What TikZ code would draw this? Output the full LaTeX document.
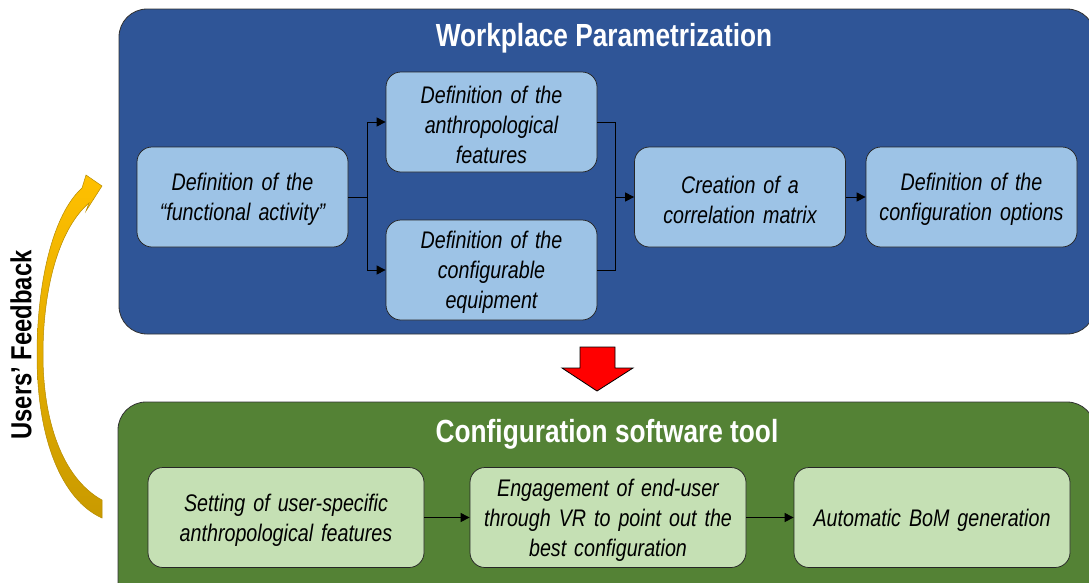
\documentclass[tikz,border=0pt]{standalone}
\usepackage{fontspec}
\setmainfont{Liberation Sans}[FakeStretch=0.82]
\usetikzlibrary{arrows.meta}
\definecolor{wpblue}{HTML}{2F5597}
\definecolor{lblue}{HTML}{9DC3E6}
\definecolor{cgreen}{HTML}{548235}
\definecolor{lgreen}{HTML}{C5E0B4}
\definecolor{goldA}{HTML}{FFC000}
\definecolor{goldB}{HTML}{C99A00}
\tikzset{
  panel/.style={draw=black!80, line width=0.8pt, rounded corners=28pt, inner sep=0pt},
  box/.style={draw=black!85, line width=0.75pt, rounded corners=15pt, inner sep=0pt,
    minimum height=100pt},
  bbox/.style={box, fill=lblue, minimum width=211pt},
  gbox/.style={box, fill=lgreen, minimum width=276pt},
  btext/.style={inner sep=0pt, align=center, text width=205pt, font=\fontsize{24}{30}\selectfont\itshape, yshift=-2.5pt},
  gtext/.style={btext, text width=268pt},
  ptitle/.style={text=white, font=\fontsize{32}{38}\selectfont\bfseries, inner sep=0pt},
  conn/.style={draw=black, line width=0.9pt},
  arr/.style={conn, -{Triangle[length=9pt,width=9pt]}}
}
\begin{document}
\begin{tikzpicture}[x=1pt,y=-1pt]
\useasboundingbox (0,0) rectangle (1089,582);
% panels
\node[panel, fill=wpblue, minimum width=976pt, minimum height=325pt] (wp) at (607,171.5) {};
\node[ptitle] (wpt) at (604,38) {Workplace Parametrization};
\node[panel, fill=cgreen, minimum width=977pt, minimum height=230pt] (cs) at (606.5,517) {};
\node[ptitle] (cst) at (607,434) {Configuration software tool};
% blue boxes
\node[bbox] (A) at (242.5,197) {};
\node[btext] (At) at (A.center) {Definition of the\\“functional activity”};
\node[bbox] (B) at (491.5,122) {};
\node[btext] (Bt) at (B.center) {Definition of the\\anthropological\\features};
\node[bbox] (C) at (491.5,270) {};
\node[btext] (Ct) at (C.center) {Definition of the\\configurable\\equipment};
\node[bbox] (D) at (740,197) {};
\node[btext] (Dt) at (D.center) {Creation of a\\correlation matrix};
\node[bbox] (E) at (971.5,197) {};
\node[btext] (Et) at (E.center) {Definition of the\\configuration options};
% green boxes
\node[gbox] (F) at (286,517.5) {};
\node[gtext] (Ft) at (F.center) {Setting of user-specific\\anthropological features};
\node[gbox] (G) at (608,517.5) {};
\node[gtext] (Gt) at (G.center) {Engagement of end-user\\through VR to point out the\\best configuration};
\node[gbox] (H) at (932,517.5) {};
\node[gtext] (Ht) at (H.center) {Automatic BoM generation};
% connectors
\coordinate (j1) at (367,197);
\coordinate (j2) at (615,197);
\draw[conn] (A.east) -- (j1);
\draw[arr] (j1) |- (B.west);
\draw[arr] (j1) |- (C.west);
\draw[conn] (B.east) -| (j2);
\draw[conn] (C.east) -| (j2);
\draw[arr] (j2) -- (D.west);
\draw[arr] (D.east) -- (E.west);
\draw[arr] (F.east) -- (G.west);
\draw[arr] (G.east) -- (H.west);
% red block arrow
\draw[fill=red, draw=black, line width=0.8pt, line join=miter]
  (580,347) -- (615,347) -- (615,368) -- (633,368) -- (597,391) -- (562,368) -- (580,368) -- cycle;
% users' feedback curved arrow
\draw[draw=goldB!90!black, line width=0.5pt, top color=goldA, bottom color=goldB]
  (102,500) .. controls (62,478) and (43,420) .. (43,355)
  .. controls (43,285) and (60,228) .. (89,203)
  -- (86,211) -- (102,186) -- (86,175) -- (82,188)
  .. controls (52,215) and (37,285) .. (37,355)
  .. controls (37,440) and (62,500) .. (102,518) -- cycle;
\node[rotate=90, font=\fontsize{29}{34}\selectfont\bfseries, inner sep=0pt] (uf) at (21,345) {Users’ Feedback};
\end{tikzpicture}
\end{document}
